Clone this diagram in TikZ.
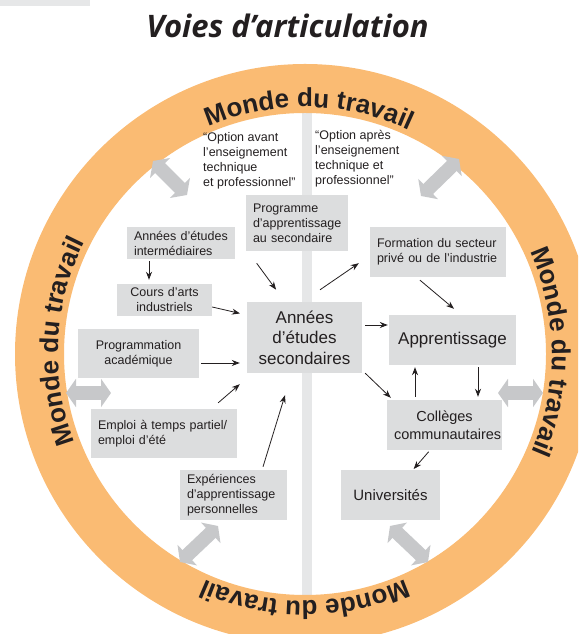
\documentclass[tikz,border=0pt]{standalone}
\usepackage{fontspec}
\setmainfont{Liberation Sans}
\newfontfamily\titlefont{Open Sans}
\usetikzlibrary{arrows.meta, decorations.text}

\definecolor{ringorange}{RGB}{250,187,115}
\definecolor{boxgray}{RGB}{220,221,222}
\definecolor{bargray}{RGB}{230,231,232}
\definecolor{arrowgray}{RGB}{199,200,202}
\definecolor{inkgray}{RGB}{35,31,32}

\newcommand\ringfont{\fontsize{26}{26}\selectfont\bfseries}
\newcommand\smalltext{\fontsize{12.5}{15}\selectfont}

\tikzset{
    box/.style = {fill = boxgray, inner xsep = 7pt, inner ysep = 0pt, text = inkgray, font = \smalltext},
    link/.style = {-{Stealth[length = 8pt, width = 6pt]}, line width = 0.8pt, inkgray},
    wayarrow/.style = {arrowgray, line width = 14pt, {Triangle[length = 10pt, width = 28pt]}-{Triangle[length = 10pt, width = 28pt]}}
}

\begin{document}
\begin{tikzpicture}[x = 1pt, y = 1pt]
    \clip (0,0) rectangle (578,634);
    \fill[bargray] (0,628) rectangle (90,634);
    \node[font = \titlefont\fontsize{31}{33}\selectfont\bfseries\itshape, text = inkgray, anchor = base] (title) at (287.5,596) {Voies d’articulation};

    % monde du travail
    \fill[bargray] (302,30) rectangle (312,530);
    \fill[ringorange, even odd rule] (305,280) circle[radius = 290] (305,280) circle[radius = 241];
    \foreach \ang in {89, 177, 0.5, 270}
        \path[decorate, decoration = {text along path, text align = center, text color = inkgray, text = {|\ringfont|Monde du travail}}]
            (305,280) ++({\ang+42}:247) arc[start angle = \ang+42, end angle = \ang-42, radius = 247];

    \draw[wayarrow] (153,473) -- (187,439);
    \draw[wayarrow] (459,475) -- (421,438);
    \draw[wayarrow] (218,108) -- (180,72);
    \draw[wayarrow] (390,108) -- (428,72);
    \draw[wayarrow] (66,241) -- (111,241);
    \draw[wayarrow] (498,241) -- (543,241);

    \node[font = \smalltext, text = inkgray, align = left, anchor = west, inner sep = 0pt] (before) at (203,473.5) {“Option avant\\ l’enseignement\\ technique\\ et professionnel”};
    \node[font = \smalltext, text = inkgray, align = left, anchor = west, inner sep = 0pt] (after) at (315,475) {“Option après\\ l’enseignement\\ technique et\\ professionnel”};

    % boxes
    \node[box, text width = 88pt, minimum height = 56pt, align = left] (prog) at (297,411) {Programme\\ d’apprentissage\\ au secondaire};
    \node[box, text width = 94pt, minimum height = 32pt, align = left] (inter) at (181,391) {Années d’études\\ intermédiaires};
    \node[box, text width = 81pt, minimum height = 32pt, align = center] (cours) at (164.5,334) {Cours d’arts\\ industriels};
    \node[box, text width = 101pt, minimum height = 71pt, align = center, font = \fontsize{17}{20.5}\selectfont] (sec) at (304.5,296.5) {Années\\ d’études\\ secondaires};
    \node[box, text width = 107pt, minimum height = 49pt, align = center] (acad) at (138.5,280.5) {Programmation\\ académique};
    \node[box, text width = 132pt, minimum height = 49pt, align = left] (emploi) at (164,200.5) {Emploi à temps partiel/\\ emploi d’été};
    \node[box, text width = 93pt, minimum height = 50pt, align = left] (exper) at (233.5,139) {Expériences\\ d’apprentissage\\ personnelles};
    \node[box, text width = 122pt, minimum height = 50pt, align = left] (form) at (438,382) {Formation du secteur\\ privé ou de l’industrie};
    \node[box, text width = 113pt, minimum height = 50pt, align = center, font = \fontsize{17}{20.5}\selectfont] (appr) at (452.5,294) {Apprentissage};
    \node[box, text width = 101pt, minimum height = 50pt, align = center, font = \fontsize{14.5}{18}\selectfont] (coll) at (444.5,209) {Collèges\\ communautaires};
    \node[box, text width = 85pt, minimum height = 50pt, align = center, font = \fontsize{15}{18}\selectfont] (univ) at (390.5,139) {Universités};

    % arrows
    \draw[link, shorten < = 2pt, shorten > = 4pt] ([xshift = -32pt]inter.south) -- ([xshift = -32pt]inter.south |- cours.north);
    \draw[link, shorten < = 15pt, shorten > = 15pt] ([xshift = 2pt]prog.south west) -- ([xshift = -19.5pt]sec.north);
    \draw[link, shorten > = 7pt] ([yshift = -7pt]cours.east) -- ([yshift = 22.5pt]sec.west);
    \draw[link, shorten < = 2pt, shorten > = 7pt] ([yshift = -9.5pt]acad.east) -- ([yshift = -9.5pt]acad.east -| sec.west);
    \draw[link] ([xshift = -19pt, yshift = 6pt]emploi.north east) -- ([xshift = -7pt, yshift = -11pt]sec.south west);
    \draw[link] ([xshift = 29.5pt, yshift = 3pt]exper.north) -- ([xshift = -19.5pt, yshift = -22pt]sec.south);
    \draw[link] ([xshift = 15.5pt, yshift = 12pt]sec.north) -- ([xshift = -11pt, yshift = 14pt]form.south west);
    \draw[link] ([xshift = -18pt, yshift = -3pt]form.south) -- ([xshift = 1.5pt, yshift = 6pt]appr.north);
    \draw[link, shorten < = 3pt, shorten > = 1pt] ([yshift = 12.5pt]sec.east) -- ([yshift = 12.5pt]sec.east -| appr.west);
    \draw[link] ([xshift = 3pt]sec.south east) -- ([xshift = 4pt, yshift = 2pt]coll.north west);
    \draw[link, shorten < = 3pt, shorten > = 2pt] ([xshift = -29.5pt]coll.north) -- ([xshift = -29.5pt]coll.north |- appr.south);
    \draw[link, shorten < = 2pt, shorten > = 3pt] ([xshift = 25.5pt]appr.south) -- ([xshift = 25.5pt]appr.south |- coll.north);
    \draw[link, shorten < = 2pt, shorten > = 1pt] ([xshift = -14.5pt]coll.south) -- ([xshift = 22.5pt]univ.north);
\end{tikzpicture}
\end{document}
